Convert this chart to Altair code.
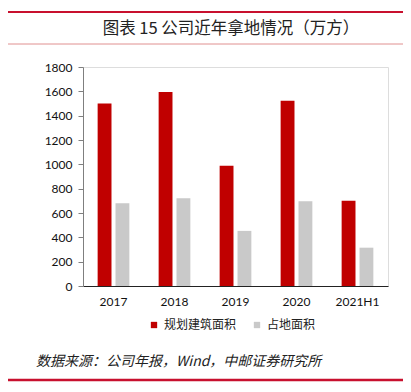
import altair as alt
import pandas as pd

years = ["2017", "2018", "2019", "2020", "2021H1"]
planned = [1500, 1595, 988, 1523, 700]
land = [680, 722, 453, 697, 315]
series = ["规划建筑面积", "占地面积"]
colors = ["#C00000", "#C9C9C9"]
title_text = "图表  15  公司近年拿地情况（万方）"
source_text = "数据来源：公司年报，Wind，中邮证券研究所"

rows = []
for i, y in enumerate(years):
    rows.append({"year": y, "series": series[0], "value": planned[i]})
    rows.append({"year": y, "series": series[1], "value": land[i]})
df = pd.DataFrame(rows)

W, H = 305, 219
FONT = "Lato"
CJK = "Noto Sans CJK SC"

bars = alt.Chart(df).mark_bar().encode(
    x=alt.X("year:N", sort=years, title=None,
            scale=alt.Scale(paddingInner=0.48, paddingOuter=0.24),
            axis=alt.Axis(labelAngle=0, ticks=False, domainColor="#222222",
                          labelFont=FONT, labelFontSize=12, labelColor="#111111",
                          labelPadding=10, grid=False)),
    xOffset=alt.XOffset("series:N", sort=series,
                        scale=alt.Scale(paddingInner=0.225, paddingOuter=0)),
    y=alt.Y("value:Q", title=None,
            scale=alt.Scale(domain=[0, 1800]),
            axis=alt.Axis(values=list(range(0, 1801, 200)), grid=False, format="d",
                          domainColor="#7F7F7F", tickColor="#7F7F7F", tickSize=5,
                          labelFont=FONT, labelFontSize=12, labelColor="#111111",
                          labelPadding=6)),
    color=alt.Color("series:N", sort=series,
                    scale=alt.Scale(domain=series, range=colors),
                    legend=alt.Legend(title=None, orient="none", direction="horizontal",
                                      legendX=65, legendY=252, symbolType="square",
                                      symbolSize=40, symbolStrokeWidth=0,
                                      labelFont=CJK, labelFontSize=12,
                                      labelColor="#222222", columnPadding=14,
                                      labelOffset=4)),
)

one = pd.DataFrame({"t": [title_text]})
title = alt.Chart(one).mark_text(font=CJK, fontSize=16.5, color="#222222",
                                 align="center", baseline="middle").encode(
    text="t:N", x=alt.value(148), y=alt.value(-38))

src = alt.Chart(pd.DataFrame({"t": [source_text]})).mark_text(
    font=CJK, fontSize=14, fontStyle="italic", color="#222222",
    align="left", baseline="middle").encode(
    text="t:N", x=alt.value(-47), y=alt.value(295))

top_line = alt.Chart(pd.DataFrame({"a": [1]})).mark_rule(
    color="#C8102E", strokeWidth=2).encode(
    x=alt.value(-75), x2=alt.value(320), y=alt.value(-55))
thin_line = alt.Chart(pd.DataFrame({"a": [1]})).mark_rule(
    color="#E09090", strokeWidth=1).encode(
    x=alt.value(-75), x2=alt.value(320), y=alt.value(-23))
bottom_line = alt.Chart(pd.DataFrame({"a": [1]})).mark_rule(
    color="#C8102E", strokeWidth=2.5).encode(
    x=alt.value(-75), x2=alt.value(320), y=alt.value(313))

chart = alt.layer(bars, title, src, top_line, thin_line, bottom_line).properties(
    width=W, height=H,
    autosize=alt.AutoSizeParams(type="none"),
    padding={"left": 75, "top": 59, "right": 15, "bottom": 97},
).configure_view(stroke=None).configure(background="white")

chart.save("out.html", embed_options={"renderer": "svg", "actions": False})
